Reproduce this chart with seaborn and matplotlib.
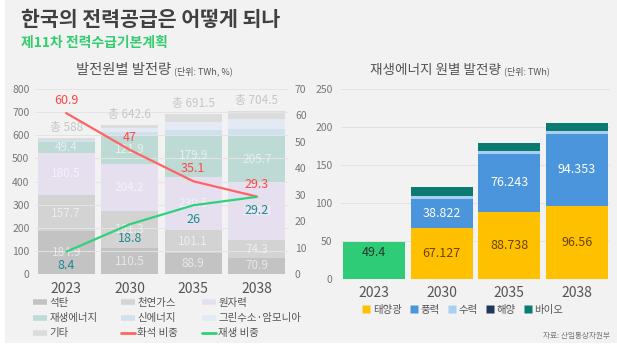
import matplotlib
matplotlib.use('Agg')
import numpy as np
import pandas as pd
import seaborn as sns
import matplotlib.pyplot as plt
from matplotlib.lines import Line2D
from matplotlib.patches import Rectangle

sns.set_theme(style='white')
plt.rcParams['font.family'] = ['Noto Sans CJK KR', 'DejaVu Sans']

# ---------------- data ----------------
years = ['2023', '2030', '2035', '2038']

# left chart: generation by source (TWh)
coal = [184.9, 110.5, 88.9, 70.9]
gas = [157.7, 161.3, 101.1, 74.3]
nuclear = [180.5, 204.2, 230.5, 248.3]
renew = [49.4, 121.9, 179.9, 205.7]
new_energy = [5.0, 16.9, 24.1, 27.1]
h2_nh3 = [0.0, 15.4, 33.0, 43.7]
other = [10.5, 12.4, 34.0, 34.5]
totals = [588, 642.6, 691.5, 704.5]
fossil_share = [60.9, 47, 35.1, 29.3]
renew_share = [8.4, 18.8, 26, 29.2]

src_names = ['석탄', '천연가스', '원자력', '재생에너지', '신에너지', '그린수소·암모니아', '기타']

# right chart: renewable generation by source (TWh)
re_total_2023 = [49.4, 0, 0, 0]
solar = [0, 67.127, 88.738, 96.56]
wind = [0, 38.822, 76.243, 94.353]
hydro = [0, 3.6, 3.9, 3.9]
ocean = [0, 0.3, 0.3, 0.3]
bio = [0, 12.0, 10.7, 10.6]
re_names = ['태양광', '풍력', '수력', '해양', '바이오']

# ---------------- style ----------------
src_colors = ['#c3c3c3', '#d3d3d3', '#e5dff0', '#bddad5', '#d0e1ee', '#e3eaf3', '#dcdcdc']
re_colors = ['#ffc000', '#4a95db', '#a9d0f2', '#1d3b57', '#0b7a70']
c_fossil = '#ff6363'
c_fossil_txt = '#ff4747'
c_renew = '#2fd27a'
c_renew_txt = '#1f8a8c'
tick_c = '#777777'

W, H = 617, 349
fig = plt.figure(figsize=(W / 100, H / 100), dpi=100)
fig.patch.set_facecolor('white')
fig.add_artist(Rectangle((5 / W, 6 / H), 612 / W, 343 / H, transform=fig.transFigure,
                         facecolor='#f2f2f2', edgecolor='none', zorder=-10))

# titles
fig.text(21 / W, 1 - 20 / H, '한국의 전력공급은 어떻게 되나', fontsize=14.8, fontweight='bold',
         color='#404040', va='center', ha='left')
fig.text(21 / W, 1 - 43 / H, '제11차 전력수급기본계획', fontsize=10, fontweight='bold',
         color='#33cc6e', va='center', ha='left')

fig.text(171 / W, 1 - 70 / H, '발전원별 발전량', fontsize=10.3, color='#555555', va='center', ha='right')
fig.text(174 / W, 1 - 71 / H, '(단위: TWh, %)', fontsize=6.5, color='#555555', va='center', ha='left')
fig.text(501 / W, 1 - 70 / H, '재생에너지 원별 발전량', fontsize=9.8, color='#555555', va='center', ha='right')
fig.text(504 / W, 1 - 71 / H, '(단위: TWh)', fontsize=6.5, color='#555555', va='center', ha='left')

# ---------------- left chart ----------------
ax1 = fig.add_axes([35 / W, 1 - 274 / H, 253 / W, 185 / H])
ax1.set_facecolor('none')
layers = [coal, gas, nuclear, renew, new_energy, h2_nh3, other]
cum = np.cumsum(np.array(layers, dtype=float), axis=0)
for i in reversed(range(len(layers))):
    sns.barplot(x=years, y=cum[i], color=src_colors[i], width=0.9, saturation=1,
                linewidth=0, errorbar=None, ax=ax1, zorder=2)
ax1.set_ylim(0, 800)
ax1.set_yticks(np.arange(0, 801, 100))
ax1.grid(axis='y', color='#e4e4e4', lw=0.7, zorder=3)
ax1.set_axisbelow(False)
ax1.set_xlabel('')
ax1.set_ylabel('')
for s in ax1.spines.values():
    s.set_visible(False)
ax1.tick_params(axis='y', length=0, labelsize=7.5, labelcolor=tick_c, pad=4)
ax1.tick_params(axis='x', length=0, labelsize=10, labelcolor='#555555', pad=6)

# inner labels (faint, as in the reference)
for li in range(4):
    base = cum[li - 1] if li > 0 else np.zeros(4)
    for j in range(4):
        v = layers[li][j]
        ax1.text(j, base[j] + v / 2, f'{v:g}', ha='center', va='center', fontsize=8.5,
                 color='white', alpha=0.6, zorder=4)
for j, t in enumerate(totals):
    ax1.annotate(f'총 {t:g}', (j, cum[-1][j]), xytext=(0, 3), textcoords='offset points',
                 ha='center', va='bottom', fontsize=8.5, color='#c6c6c6')

ax2 = ax1.twinx()
xpos = np.arange(len(years))
sns.lineplot(x=xpos, y=fossil_share, color=c_fossil, lw=1.6, ax=ax2)
sns.lineplot(x=xpos, y=renew_share, color=c_renew, lw=1.6, ax=ax2)
ax2.set_ylim(0, 70)
ax2.set_yticks(np.arange(0, 71, 10))
ax2.set_ylabel('')
for s in ax2.spines.values():
    s.set_visible(False)
ax2.tick_params(axis='y', length=0, labelsize=7.5, labelcolor=tick_c, pad=5)
for j in range(len(years)):
    ax2.annotate(f'{fossil_share[j]:g}', (j, fossil_share[j]), xytext=(0, 9), textcoords='offset points',
                 ha='center', va='center', fontsize=9, color=c_fossil_txt, zorder=6)
    ax2.annotate(f'{renew_share[j]:g}', (j, renew_share[j]), xytext=(0, -10), textcoords='offset points',
                 ha='center', va='center', fontsize=9, color=c_renew_txt, zorder=6)
ax1.set_xlim(-0.49, 3.49)

handles = [Line2D([0], [0], color=c, lw=4, solid_capstyle='butt') for c in src_colors]
handles += [Line2D([0], [0], color=c_fossil, lw=2), Line2D([0], [0], color=c_renew, lw=2)]
labels = src_names + ['화석 비중', '재생 비중']
order = [0, 3, 6, 1, 4, 7, 2, 5, 8]
fig.legend([handles[k] for k in order], [labels[k] for k in order], ncol=3,
           loc='upper left', bbox_to_anchor=(33 / W, 1 - 298 / H), frameon=False,
           fontsize=7.5, handlelength=1.3, handletextpad=0.25, columnspacing=2.3,
           labelspacing=0.5, labelcolor='#555555', borderpad=0, borderaxespad=0)

# ---------------- right chart ----------------
ax3 = fig.add_axes([341 / W, 1 - 279 / H, 269 / W, 189.7 / H])
ax3.set_facecolor('none')
re_layers = [solar, wind, hydro, ocean, bio]
re_cum = np.cumsum(np.array(re_layers, dtype=float), axis=0)
for i in reversed(range(len(re_layers))):
    sns.barplot(x=years, y=re_cum[i], color=re_colors[i], width=0.915, saturation=1,
                linewidth=0, errorbar=None, ax=ax3, zorder=2)
sns.barplot(x=years, y=re_total_2023, color='#2ecc76', width=0.915, saturation=1,
            linewidth=0, errorbar=None, ax=ax3, zorder=2)
ax3.set_ylim(0, 250)
ax3.set_yticks(np.arange(0, 251, 50))
ax3.set_xlim(-0.49, 3.49)
ax3.grid(axis='y', color='#e2e2e2', lw=0.8)
ax3.set_axisbelow(True)
ax3.set_xlabel('')
ax3.set_ylabel('')
for s in ax3.spines.values():
    s.set_visible(False)
ax3.tick_params(axis='y', length=0, labelsize=7.5, labelcolor=tick_c, pad=6)
ax3.tick_params(axis='x', length=0, labelsize=10, labelcolor='#555555', pad=5)

ax3.text(0, re_total_2023[0] * 0.7, f'{re_total_2023[0]:g}', ha='center', va='center',
         fontsize=9, color='#24392f')
for j in range(1, 4):
    ax3.text(j, solar[j] / 2, f'{solar[j]:g}', ha='center', va='center', fontsize=9, color='#6b4300')
    ax3.text(j, solar[j] + wind[j] / 2, f'{wind[j]:g}', ha='center', va='center', fontsize=9, color='white')

re_handles = [Line2D([0], [0], marker='s', color='none', markerfacecolor=c, markeredgecolor='none',
                     markersize=6) for c in re_colors]
fig.legend(re_handles, re_names, ncol=5, loc='center', bbox_to_anchor=(463 / W, 1 - 310 / H),
           frameon=False, fontsize=7.5, handlelength=0.7, handletextpad=0.3, columnspacing=0.8,
           labelcolor='#555555', borderpad=0)

fig.text(610 / W, 1 - 336 / H, '자료: 산업통상자원부', fontsize=5.5, color='#777777', ha='right', va='center')

fig.savefig('out.png', dpi=100, facecolor=fig.get_facecolor())
